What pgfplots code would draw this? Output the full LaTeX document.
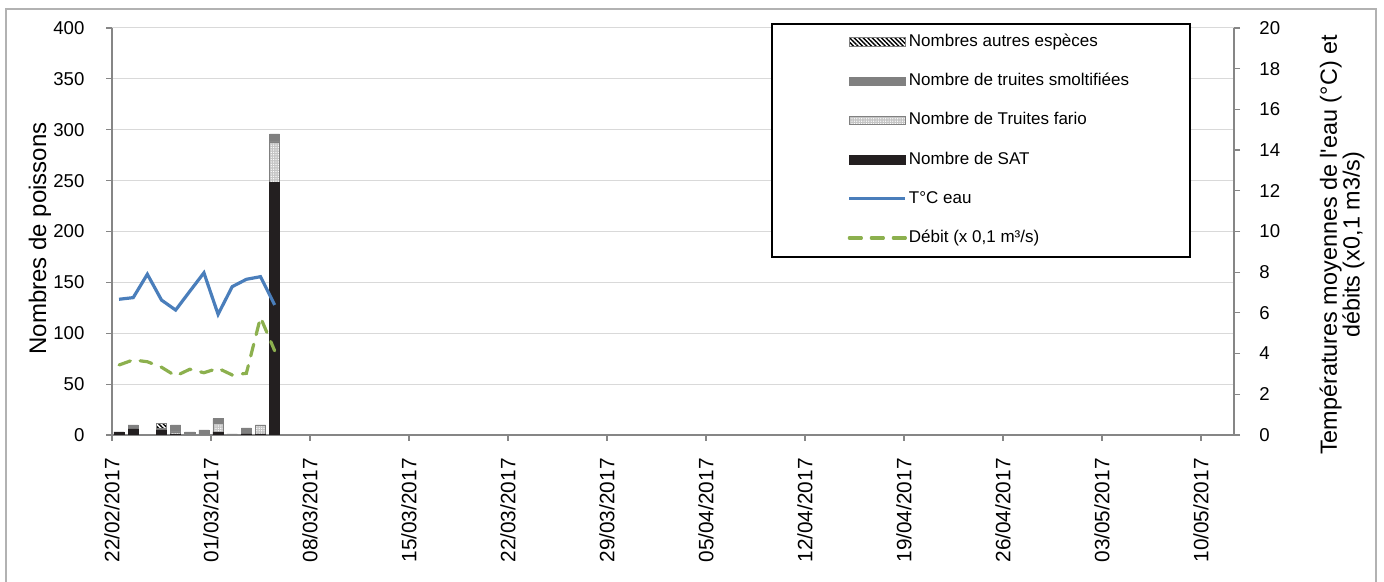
\documentclass[border=0pt]{standalone}
\usepackage{fontspec}
\setmainfont{Liberation Sans}
\usepackage{pgfplots}
\pgfplotsset{compat=1.18}
\usetikzlibrary{patterns.meta}
\definecolor{axgray}{HTML}{868686}
\definecolor{gridgray}{HTML}{D9D9D9}
\definecolor{tblue}{HTML}{4A7EBB}
\definecolor{dgreen}{HTML}{8CB04E}
\definecolor{satblack}{HTML}{231F20}
\definecolor{smoltgray}{HTML}{808080}
\definecolor{fariogray}{HTML}{C4C4C4}
\pgfplotsset{
  base/.style={scale only axis, width=561pt, height=203.5pt, at={(56pt,73.5pt)}, anchor=south west,
    xmin=0, xmax=79.33, ymin=0,
    axis line style={-, axgray, line width=0.7pt},
    tick style={axgray, line width=0.6pt}, tick align=outside, major tick length=3pt,
    /pgf/number format/assume math mode=true,
    ticklabel style={font=\fontsize{9.3}{11}\selectfont}},
  barleg/.style={legend image code/.code={\draw[##1] (0pt,-2.2pt) rectangle (28pt,2.2pt);}},
  lineleg/.style={legend image code/.code={\draw[##1] (0pt,0pt) -- (28pt,0pt);}},
  satst/.style={fill=satblack, draw=satblack, line width=0.3pt},
  fariost/.style={fill=fariogray, draw=smoltgray, line width=0.4pt, postaction={pattern={Dots[distance=1.2pt, radius=0.35pt]}, pattern color=white}},
  smoltst/.style={fill=smoltgray, draw=smoltgray, line width=0.3pt},
  autrest/.style={fill=white, draw=smoltgray, line width=0.4pt, postaction={pattern={Lines[angle=-45, distance=1.6pt, line width=0.7pt]}, pattern color=black}},
}
\begin{document}
\begin{tikzpicture}
\useasboundingbox (0pt,0pt) rectangle (692pt,291pt);
\draw[gray!60, line width=0.6pt] (3pt,-2pt) -- (3pt,286.5pt) -- (688pt,286.5pt) -- (688pt,-2pt);
\begin{axis}[base, ymax=400, ytick={0,50,...,400},
  ybar stacked, bar width=0.72,
  axis x line*=bottom, axis y line*=left,
  ymajorgrids, grid style={gridgray, line width=0.5pt},
  xtick={0,7,...,77},
  xticklabels={22/02/2017,01/03/2017,08/03/2017,15/03/2017,22/03/2017,29/03/2017,05/04/2017,12/04/2017,19/04/2017,26/04/2017,03/05/2017,10/05/2017},
  xticklabel style={rotate=90, anchor=east, inner sep=0pt, font=\fontsize{10.4}{12}\selectfont},
  xticklabel shift=8.5pt,
  yticklabel style={anchor=east, inner sep=0pt},
  yticklabel shift=10.6pt,
  ylabel={Nombres de poissons},
  ylabel style={at={(axis description cs:-0.0642,0.483)}, anchor=center, rotate=0, font=\fontsize{12}{14}\selectfont},
]
\addplot+[satst] coordinates {(0.5,3) (1.5,6) (3.5,5) (4.5,1) (5.5,0) (6.5,0) (7.5,3) (8.5,0) (9.5,1) (10.5,1) (11.5,248)};
\addplot+[fariost] coordinates {(0.5,0) (1.5,0) (3.5,0) (4.5,2) (5.5,0) (6.5,0) (7.5,8) (8.5,0) (9.5,0) (10.5,8) (11.5,40)};
\addplot+[smoltst] coordinates {(0.5,0) (1.5,4) (3.5,1) (4.5,7) (5.5,3) (6.5,5) (7.5,5) (8.5,1) (9.5,6) (10.5,1) (11.5,8)};
\addplot+[autrest] coordinates {(0.5,0) (1.5,0) (3.5,5) (4.5,0) (5.5,0) (6.5,0) (7.5,0) (8.5,0) (9.5,0) (10.5,0) (11.5,0)};
\end{axis}
\filldraw[fill=white, draw=black, line width=0.6pt] (386pt,279pt) rectangle (595pt,162.5pt);
\begin{axis}[base, ymax=20, ytick={0,2,...,20},
  axis y line*=right, axis x line=none,
  yticklabel style={anchor=west, inner sep=0pt},
  yticklabel shift=9.5pt,
  ylabel={Températures moyennes de l\textquotesingle eau (°C) et\\débits (x0,1 m3/s)},
  ylabel style={at={(axis description cs:1.0963,0.467)}, anchor=center, rotate=0, align=center, font=\fontsize{11.7}{11.3}\selectfont},
  legend style={draw=none, fill=none, at={(axis description cs:0.782,0.7248)}, anchor=center,
    font=\fontsize{8.5}{10}\selectfont, row sep=9.6pt,
    nodes={inner sep=1pt, text height=6.2pt, text depth=1.8pt}},
  legend cell align=left,
]
\addlegendimage{barleg, autrest}
\addlegendentry{Nombres autres espèces}
\addlegendimage{barleg, smoltst}
\addlegendentry{Nombre de truites smoltifiées}
\addlegendimage{barleg, fariost}
\addlegendentry{Nombre de Truites fario}
\addlegendimage{barleg, satst}
\addlegendentry{Nombre de SAT}
\addplot[lineleg, tblue, line width=1.6pt] coordinates {(0.5,6.67) (1.5,6.75) (2.5,7.9) (3.5,6.63) (4.5,6.14) (5.5,7.06) (6.5,7.97) (7.5,5.93) (8.5,7.29) (9.5,7.65) (10.5,7.78) (11.5,6.39)};
\addlegendentry{T°C eau}
\addplot[lineleg, dgreen, line width=1.6pt, line cap=round, dash pattern=on 6pt off 5pt] coordinates {(0.5,3.44) (1.5,3.69) (2.5,3.6) (3.5,3.33) (4.5,2.9) (5.5,3.23) (6.5,3.06) (7.5,3.28) (8.5,2.95) (9.5,3.03) (10.5,5.78) (11.5,4.14)};
\addlegendentry{Débit (x 0,1 m³/s)}
\end{axis}
\end{tikzpicture}
\end{document}
